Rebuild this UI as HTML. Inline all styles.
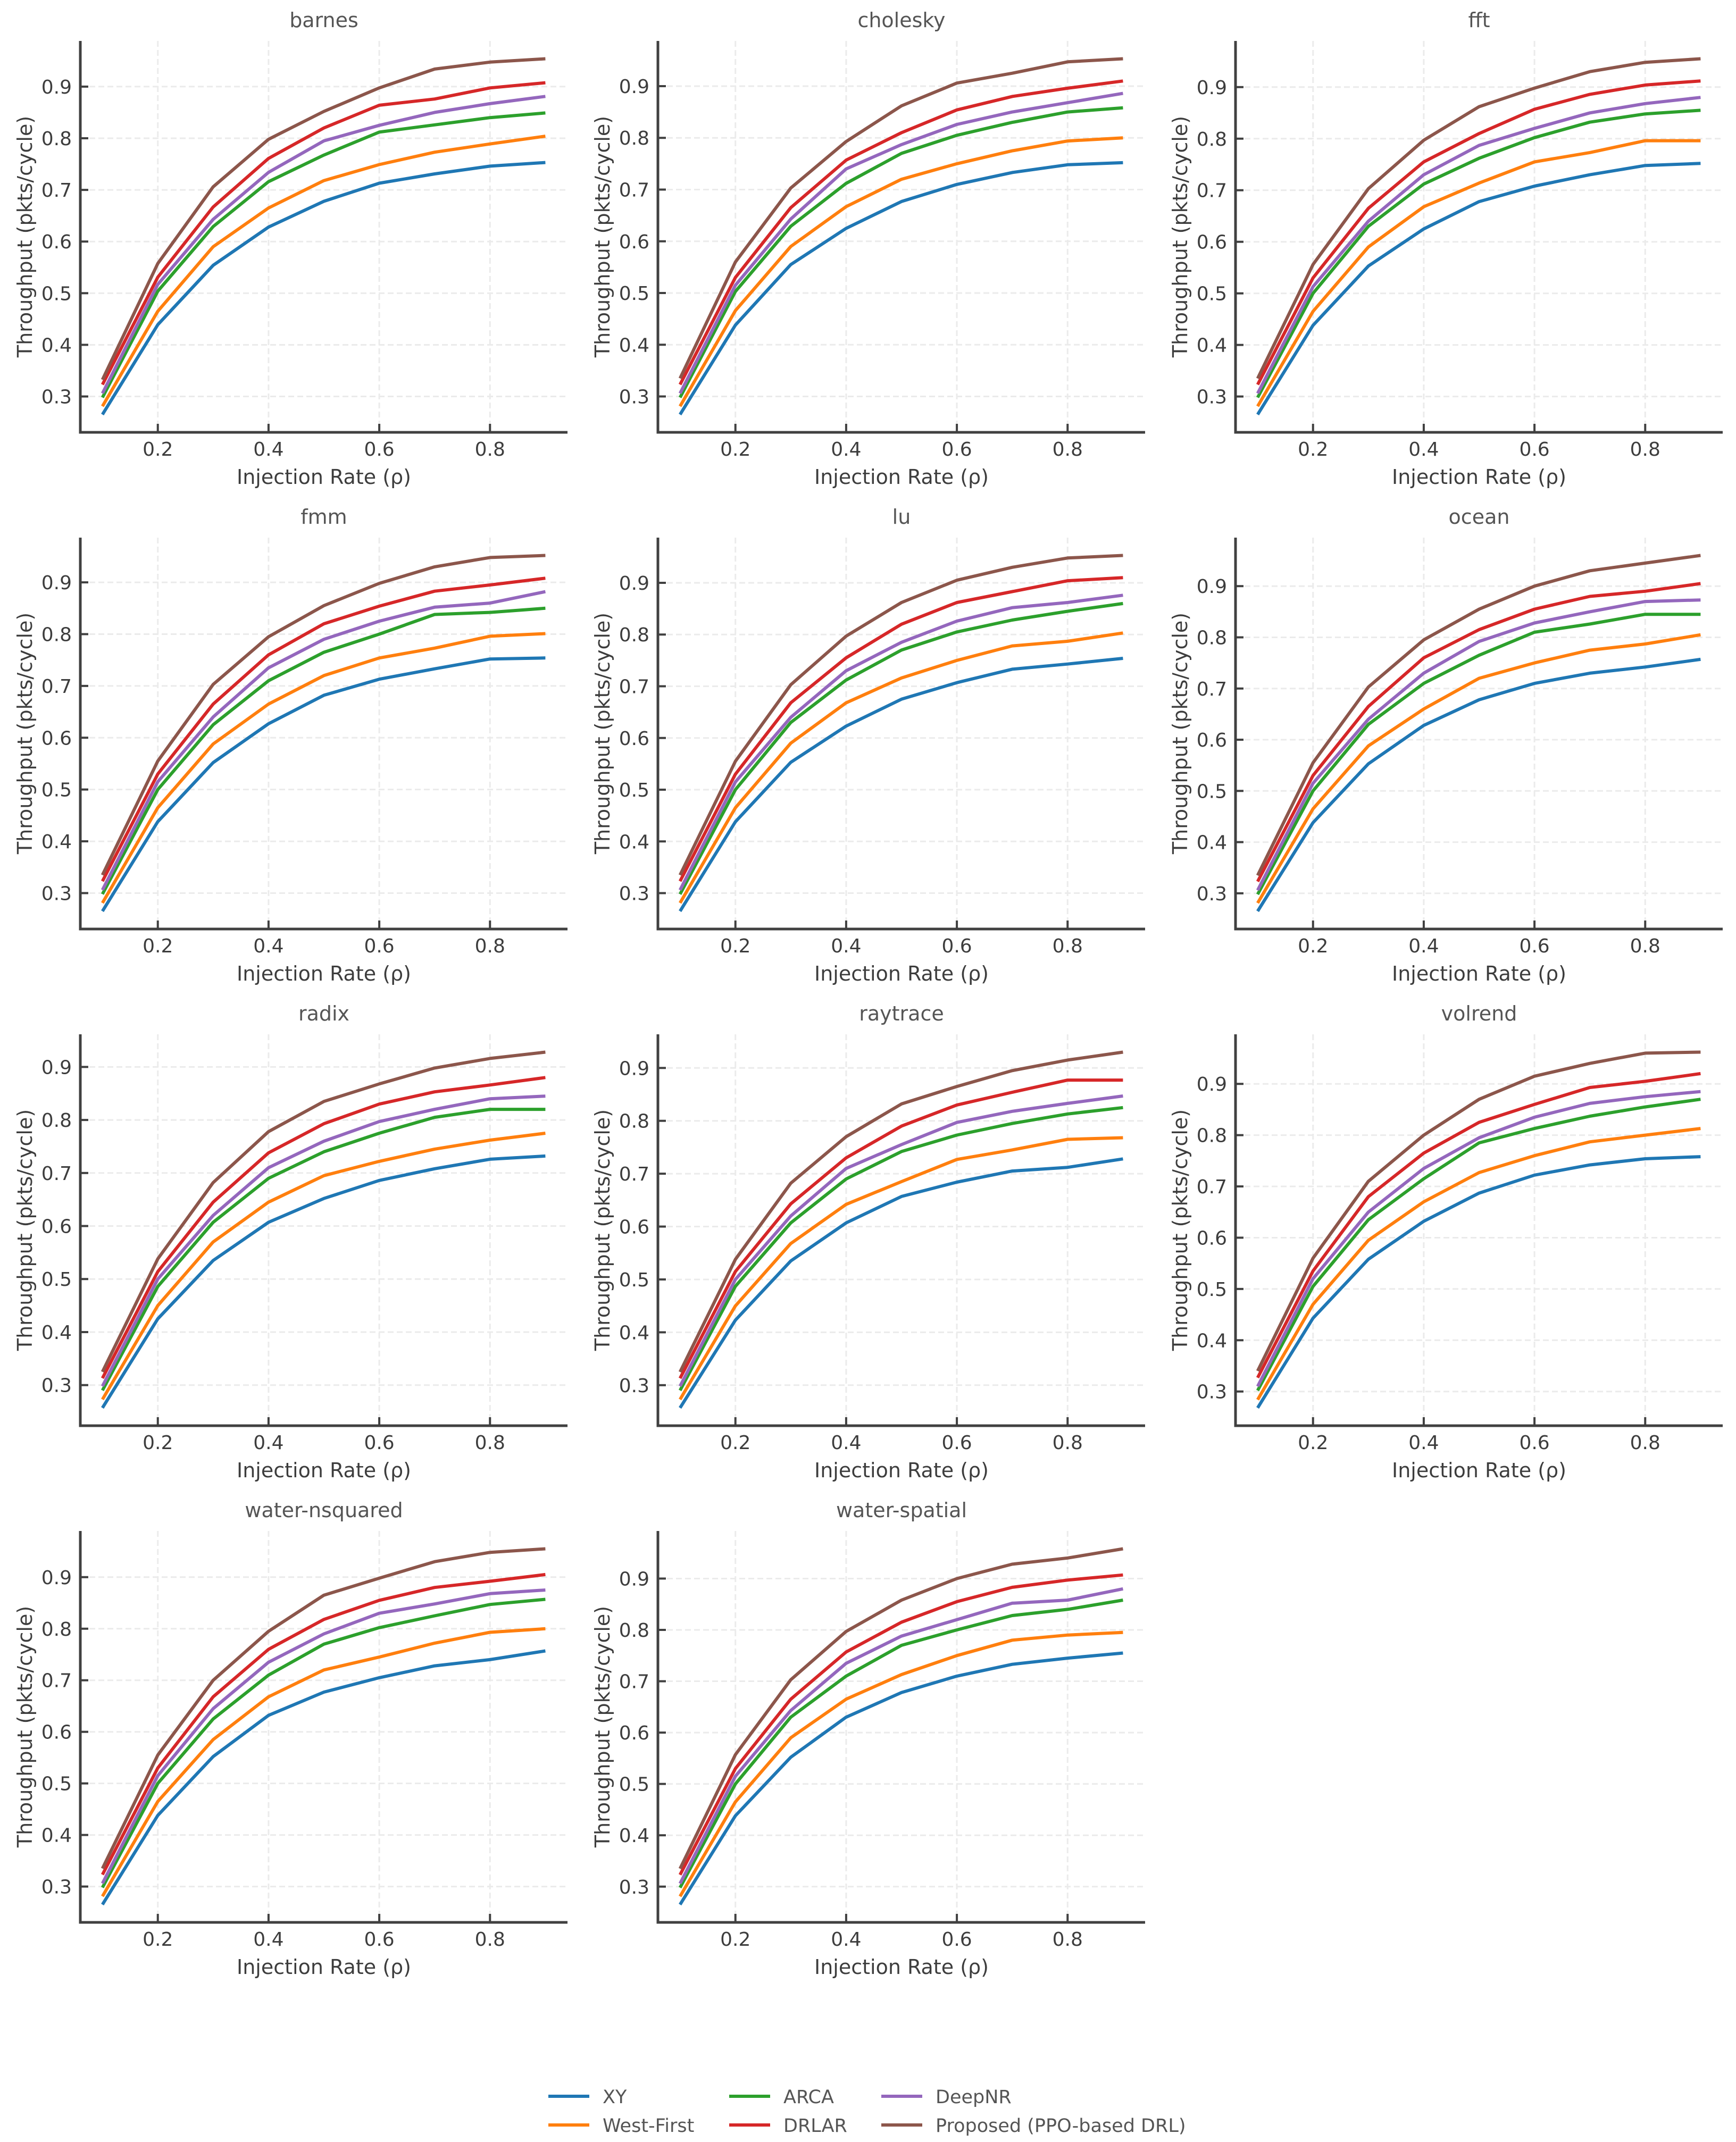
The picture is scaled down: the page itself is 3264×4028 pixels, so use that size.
<!DOCTYPE html>
<html><head><meta charset="utf-8"><style>
html,body{margin:0;padding:0;background:#fff;}
svg{display:block;font-family:"DejaVu Sans","Liberation Sans",sans-serif;}
</style></head><body>
<svg id="chart" width="3264" height="4028" viewBox="0 0 3264 4028" xmlns="http://www.w3.org/2000/svg"></svg>
<script>
const xValues = [0.1,0.2,0.3,0.4,0.5,0.6,0.7,0.8,0.9];
const xTicks = [0.2,0.4,0.6,0.8];
const xTickLabels = ["0.2","0.4","0.6","0.8"];
const yTicks = [0.3,0.4,0.5,0.6,0.7,0.8,0.9];
const yTickLabels = ["0.3","0.4","0.5","0.6","0.7","0.8","0.9"];
const seriesNames = ["XY","West-First","ARCA","DRLAR","DeepNR","Proposed (PPO-based DRL)"];
const benchmarks = ["barnes","cholesky","fft","fmm","lu","ocean","radix","raytrace","volrend","water-nsquared","water-spatial"];
// order: XY, West-First, ARCA, DRLAR, DeepNR, Proposed
const barnes = [
 [.265,.439,.554,.628,.678,.713,.731,.746,.753],
 [.281,.465,.590,.665,.718,.749,.773,.789,.804],
 [.298,.504,.629,.716,.7675,.812,.826,.840,.849],
 [.323,.531,.667,.761,.820,.864,.876,.8975,.9075],
 [.306,.517,.643,.734,.795,.825,.850,.867,.881],
 [.3325,.5575,.706,.798,.852,.8975,.934,.9475,.954]];
const cholesky = [
 [.265,.438,.555,.625,.677,.710,.733,.748,.752],
 [.281,.466,.590,.667,.720,.750,.775,.794,.800],
 [.298,.503,.629,.712,.770,.805,.830,.850,.858],
 [.323,.530,.665,.757,.810,.854,.880,.896,.910],
 [.306,.515,.643,.740,.787,.826,.850,.868,.886],
 [.335,.560,.703,.793,.862,.906,.925,.947,.953]];
const fft = [
 [.265,.438,.553,.625,.678,.708,.730,.748,.752],
 [.281,.465,.590,.668,.714,.755,.773,.796,.796],
 [.298,.500,.630,.712,.762,.802,.832,.848,.855],
 [.323,.530,.665,.755,.810,.857,.886,.904,.912],
 [.306,.513,.640,.730,.787,.820,.850,.868,.880],
 [.335,.556,.703,.797,.862,.898,.930,.948,.955]];
const fmm = [
 [.265,.438,.552,.627,.682,.713,.733,.752,.754],
 [.281,.465,.588,.665,.720,.754,.773,.796,.801],
 [.298,.500,.625,.710,.765,.800,.838,.842,.850],
 [.323,.530,.665,.760,.820,.854,.883,.895,.908],
 [.306,.515,.640,.735,.790,.825,.852,.860,.882],
 [.335,.555,.703,.795,.855,.898,.930,.948,.952]];
const lu = [
 [.265,.438,.553,.623,.675,.707,.733,.743,.754],
 [.281,.465,.590,.668,.716,.750,.778,.787,.803],
 [.298,.500,.630,.712,.770,.805,.828,.845,.860],
 [.323,.530,.668,.755,.820,.862,.883,.904,.910],
 [.306,.515,.640,.730,.785,.826,.852,.862,.876],
 [.335,.555,.703,.797,.862,.905,.930,.948,.953]];
const ocean = [
 [.265,.438,.553,.628,.678,.710,.730,.742,.757],
 [.281,.465,.588,.660,.720,.750,.775,.787,.805],
 [.298,.500,.630,.710,.765,.810,.826,.845,.845],
 [.323,.530,.665,.760,.815,.855,.880,.890,.905],
 [.306,.515,.640,.730,.792,.828,.850,.870,.873],
 [.335,.555,.703,.795,.855,.900,.930,.945,.960]];
const radix = [
 [.257,.425,.535,.607,.652,.686,.708,.726,.732],
 [.273,.450,.570,.645,.695,.722,.745,.762,.775],
 [.290,.486,.607,.690,.740,.775,.805,.820,.820],
 [.313,.514,.645,.738,.793,.830,.853,.866,.880],
 [.298,.500,.620,.710,.760,.797,.820,.840,.845],
 [.325,.538,.682,.778,.835,.868,.898,.916,.928]];
const raytrace = [
 [.257,.423,.535,.607,.657,.684,.705,.712,.728],
 [.273,.450,.568,.642,.685,.727,.745,.765,.768],
 [.290,.487,.607,.690,.742,.773,.795,.813,.825],
 [.313,.515,.643,.730,.790,.830,.854,.877,.877],
 [.298,.500,.620,.710,.755,.797,.818,.833,.847],
 [.325,.538,.682,.770,.832,.865,.895,.915,.930]];
const volrend = [
 [.268,.443,.558,.632,.687,.722,.742,.754,.758],
 [.284,.470,.595,.670,.727,.760,.787,.800,.813],
 [.302,.505,.635,.715,.785,.813,.837,.855,.870],
 [.327,.535,.680,.765,.825,.860,.893,.905,.920],
 [.310,.520,.650,.735,.795,.835,.862,.875,.885],
 [.340,.560,.710,.800,.870,.915,.940,.960,.962]];
const waterNsquared = [
 [.265,.438,.552,.632,.677,.705,.728,.740,.757],
 [.281,.465,.585,.668,.720,.745,.772,.793,.800],
 [.298,.500,.625,.710,.770,.802,.825,.847,.857],
 [.323,.530,.668,.760,.818,.855,.880,.892,.905],
 [.306,.515,.645,.735,.790,.830,.848,.868,.875],
 [.335,.555,.700,.795,.865,.898,.930,.948,.955]];
const waterSpatial = [
 [.265,.438,.552,.630,.678,.710,.733,.745,.755],
 [.281,.465,.590,.665,.713,.750,.780,.790,.795],
 [.298,.500,.630,.710,.770,.800,.828,.840,.858],
 [.323,.530,.665,.757,.815,.855,.883,.897,.907],
 [.306,.515,.643,.735,.788,.820,.852,.858,.880],
 [.335,.557,.703,.797,.858,.900,.928,.940,.958]];
const panelData = [barnes,cholesky,fft,fmm,lu,ocean,radix,raytrace,volrend,waterNsquared,waterSpatial];
const colors = ["#1f77b4","#ff7f0e","#2ca02c","#d62728","#9467bd","#8c564b"];

const NS = "http://www.w3.org/2000/svg";
const svg = document.getElementById("chart");
function mk(tag, attrs, parent){const e=document.createElementNS(NS,tag);for(const k in attrs)e.setAttribute(k,attrs[k]);(parent||svg).appendChild(e);return e;}

const AX_L=151, AX_T=77, AX_W=916, AX_H=736, COL_P=1086, ROW_P=934;
const XMIN=0.06, XMAX=0.94;
const AXC="#404040";

benchmarks.forEach((name,i)=>{
  const data = panelData[i];
  const col=i%3, row=Math.floor(i/3);
  const L=AX_L+col*COL_P, T=AX_T+row*ROW_P, B=T+AX_H, R=L+AX_W;
  let mn=Infinity,mx=-Infinity;
  data.forEach(s=>s.forEach(v=>{mn=Math.min(mn,v);mx=Math.max(mx,v);}));
  const pad=(mx-mn)*0.05, y0=mn-pad, y1=mx+pad;
  const xs=v=>L+(v-XMIN)/(XMAX-XMIN)*AX_W;
  const ys=v=>B-(v-y0)/(y1-y0)*AX_H;
  const g=mk("g",{});
  
  
  xTicks.forEach((t)=>{const l=mk("line",{x1:xs(t),x2:xs(t),y1:T,y2:B,stroke:"#ebebeb","stroke-width":3,"stroke-dasharray":"11,6"},g);
    
    });
  yTicks.forEach((t)=>{const l=mk("line",{x1:L,x2:R,y1:ys(t),y2:ys(t),stroke:"#ebebeb","stroke-width":3,"stroke-dasharray":"11,6"},g);
    
    });
  data.forEach((s,k)=>{
    const pts=s.map((v,j)=>xs(xValues[j]).toFixed(1)+","+ys(v).toFixed(1)).join(" ");
    const p=mk("polyline",{points:pts,fill:"none",stroke:colors[k],"stroke-width":6,"stroke-linejoin":"round"},g);
    
    
  });
  const sp=mk("path",{d:`M${L},${T} L${L},${B} L${R},${B}`,fill:"none",stroke:AXC,"stroke-width":5},g);
  
  
  xTicks.forEach((t,j)=>{
    mk("line",{x1:xs(t),x2:xs(t),y1:B,y2:B-16,stroke:AXC,"stroke-width":4},g);
    const tx=mk("text",{x:xs(t),y:B+44,"text-anchor":"middle","font-size":36,fill:"#3d3d3d"},g);
    tx.textContent=xTickLabels[j];
    
    
  });
  yTicks.forEach((t,j)=>{
    mk("line",{x1:L,x2:L+15,y1:ys(t),y2:ys(t),stroke:AXC,"stroke-width":4},g);
    const tx=mk("text",{x:L-16,y:ys(t)+13,"text-anchor":"end","font-size":36,fill:"#3d3d3d"},g);
    tx.textContent=yTickLabels[j];
    
    
  });
  const ti=mk("text",{x:(L+R)/2,y:T-26,"text-anchor":"middle","font-size":38,fill:"#555"},g);
  ti.textContent=name;
  
  
  const xl=mk("text",{x:(L+R)/2,y:B+97,"text-anchor":"middle","font-size":38,fill:"#3d3d3d"},g);
  xl.textContent="Injection Rate (ρ)";
  
  
  const yc=L-104, ym=(T+B)/2;
  const yl=mk("text",{x:yc,y:ym,"text-anchor":"middle","font-size":38,fill:"#3d3d3d",transform:`rotate(-90 ${yc} ${ym})`,"dominant-baseline":"central"},g);
  yl.textContent="Throughput (pkts/cycle)";
  
  
});

const legX=[1031,1031,1371,1371,1657,1657];
const legY=[3942,3996,3942,3996,3942,3996];
const legOrder=[0,1,2,3,4,5];
const lg=mk("g",{});


legOrder.forEach((k,j)=>{
  const ln=mk("line",{x1:legX[j],x2:legX[j]+77,y1:legY[j],y2:legY[j],stroke:colors[k],"stroke-width":6},lg);
  
  
  const t=mk("text",{x:legX[j]+102,y:legY[j]+13,"font-size":35,fill:"#555"},lg);
  t.textContent=seriesNames[k];
  
  
});
</script>
</body></html>
